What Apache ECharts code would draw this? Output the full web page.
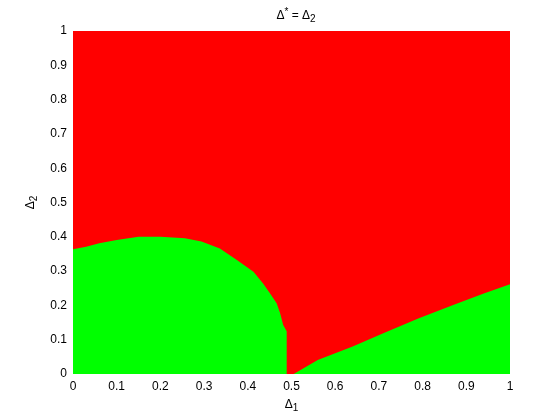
<!DOCTYPE html>
<html>
<head>
<meta charset="utf-8">
<script src="https://cdn.jsdelivr.net/npm/echarts@6/dist/echarts.min.js"></script>
<style>
  html, body { margin: 0; padding: 0; background: #fff; }
  #chart { width: 560px; height: 420px; }
</style>
</head>
<body>
<div id="chart"></div>
<script>
  // 红色区域: 整个 [0,1] 区间顶到 1
  var redX = [0, 1];
  var redY = [1, 1];

  // 绿色区域的上边界 (Δ1, Δ2)
  var greenX = [0, 0.03, 0.06, 0.10, 0.15, 0.20, 0.256, 0.294, 0.336, 0.375, 0.413, 0.435, 0.451, 0.466, 0.474, 0.481, 0.489, 0.489,
                0.505, 0.56, 0.64, 0.71, 0.79, 0.87, 0.94, 1.0];
  var greenY = [0.364, 0.371, 0.381, 0.391, 0.40, 0.40, 0.396, 0.386, 0.366, 0.332, 0.298, 0.264, 0.235, 0.206, 0.177, 0.143, 0.125, 0,
                0, 0.041, 0.08, 0.119, 0.162, 0.201, 0.235, 0.262];

  var xTicks = [0, 0.1, 0.2, 0.3, 0.4, 0.5, 0.6, 0.7, 0.8, 0.9, 1];
  var yTicks = [0, 0.1, 0.2, 0.3, 0.4, 0.5, 0.6, 0.7, 0.8, 0.9, 1];

  function pairs(xs, ys) {
    var out = [];
    for (var i = 0; i < xs.length; i++) out.push([xs[i], ys[i]]);
    return out;
  }

  var font = 'Liberation Sans, Arial, Helvetica, sans-serif';
  var rich = {
    d: { fontFamily: font, fontSize: 12, fontWeight: 'normal', color: '#000' },
    sub: { fontFamily: font, fontSize: 10, fontWeight: 'normal', color: '#000', padding: [7, 0, 0, 0] },
    sup: { fontFamily: font, fontSize: 10, fontWeight: 'normal', color: '#000', padding: [0, 0, 7, 0] }
  };

  var chart = echarts.init(document.getElementById('chart'), null, { renderer: 'canvas' });
  chart.setOption({
    animation: false,
    backgroundColor: '#fff',
    title: {
      text: '{d|Δ}{sup|*}{d| = Δ}{sub|2}',
      left: 291,
      top: 2,
      textAlign: 'center',
      textStyle: { fontWeight: 'normal', rich: rich }
    },
    grid: { left: 73, right: 50, top: 31, bottom: 46 },
    xAxis: {
      type: 'value',
      min: xTicks[0],
      max: xTicks[xTicks.length - 1],
      interval: 0.1,
      name: '{d|Δ}{sub|1}',
      nameLocation: 'middle',
      nameGap: 22,
      nameTextStyle: { rich: rich },
      axisLine: { show: false },
      axisTick: { show: false },
      splitLine: { show: false },
      axisLabel: { fontFamily: font, fontSize: 12, color: '#000', margin: 7 }
    },
    yAxis: {
      type: 'value',
      min: yTicks[0],
      max: yTicks[yTicks.length - 1],
      interval: 0.1,
      name: '{d|Δ}{sub|2}',
      nameLocation: 'middle',
      nameGap: 32,
      nameTextStyle: { rich: rich },
      axisLine: { show: false },
      axisTick: { show: false },
      splitLine: { show: false },
      axisLabel: { fontFamily: font, fontSize: 12, color: '#000', margin: 6 }
    },
    series: [{
      name: 'red',
      type: 'line',
      data: pairs(redX, redY),
      showSymbol: false,
      lineStyle: { width: 0 },
      areaStyle: { color: '#ff0000', opacity: 1 }
    }, {
      name: 'green',
      type: 'line',
      data: pairs(greenX, greenY),
      showSymbol: false,
      lineStyle: { width: 0 },
      areaStyle: { color: '#00ff00', opacity: 1 }
    }]
  });
</script>
</body>
</html>
